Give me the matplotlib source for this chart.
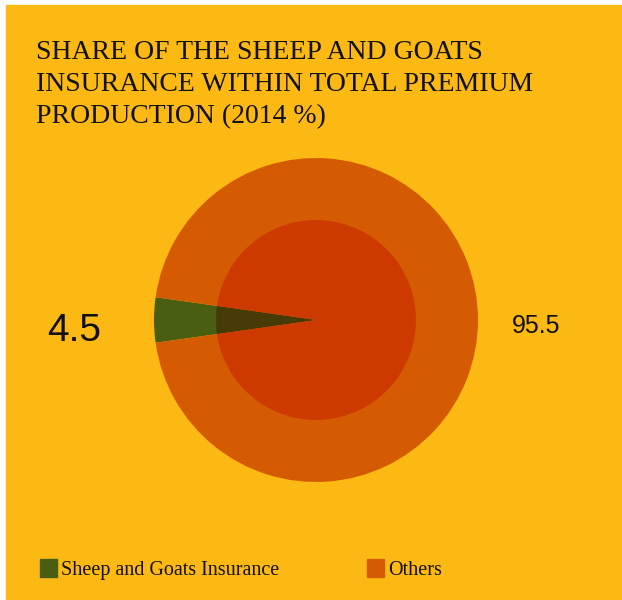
import matplotlib
matplotlib.use("Agg")
import matplotlib.pyplot as plt
from matplotlib.patches import Rectangle

# Data
labels = ["Sheep and Goats Insurance", "Others"]
shares = [4.5, 95.5]
title = "SHARE OF THE SHEEP AND GOATS\nINSURANCE WITHIN TOTAL PREMIUM\nPRODUCTION (2014 %)"

# Colours
bg = "#FDB913"
outer_colors = ["#4A5E12", "#D55B02"]
inner_colors = ["#463A06", "#CC3A00"]

fig = plt.figure(figsize=(6.22, 6.0), dpi=100, facecolor="white")
ax = fig.add_axes([0, 0, 1, 1])

# orange panel (thin white margin top/left)
ax.add_patch(Rectangle((6, 0), 616, 595, color=bg, zorder=0))

start = 180 - shares[0] * 3.6 / 2
cx, cy = 316, 280
ax.pie(shares, colors=outer_colors, startangle=start, radius=162,
       center=(cx, cy), frame=True)
ax.pie(shares, colors=inner_colors, startangle=start, radius=100,
       center=(cx, cy), frame=True)
ax.set_xlim(0, 622)
ax.set_ylim(0, 600)
ax.set_aspect("equal")
ax.axis("off")

# value labels
ax.text(74, 269, f"{shares[0]}", fontsize=28, ha="center", va="center",
        family="Liberation Sans", color="#111111")
ax.text(536, 274, f"{shares[1]}", fontsize=18, ha="center", va="center",
        family="Liberation Sans", color="#111111")

# title
ax.text(36, 560, title, fontsize=20, ha="left", va="top",
        family="Liberation Serif", color="#111111", linespacing=1.38)

# legend
leg_x = [40, 367]
for i in range(len(labels)):
    ax.add_patch(Rectangle((leg_x[i], 23), 17, 18, color=outer_colors[i]))
    ax.text(leg_x[i] + 21, 25, labels[i], fontsize=14.5, ha="left",
            va="baseline", family="Liberation Serif", color="#111111")

fig.savefig("out.png", dpi=100, facecolor="white")
